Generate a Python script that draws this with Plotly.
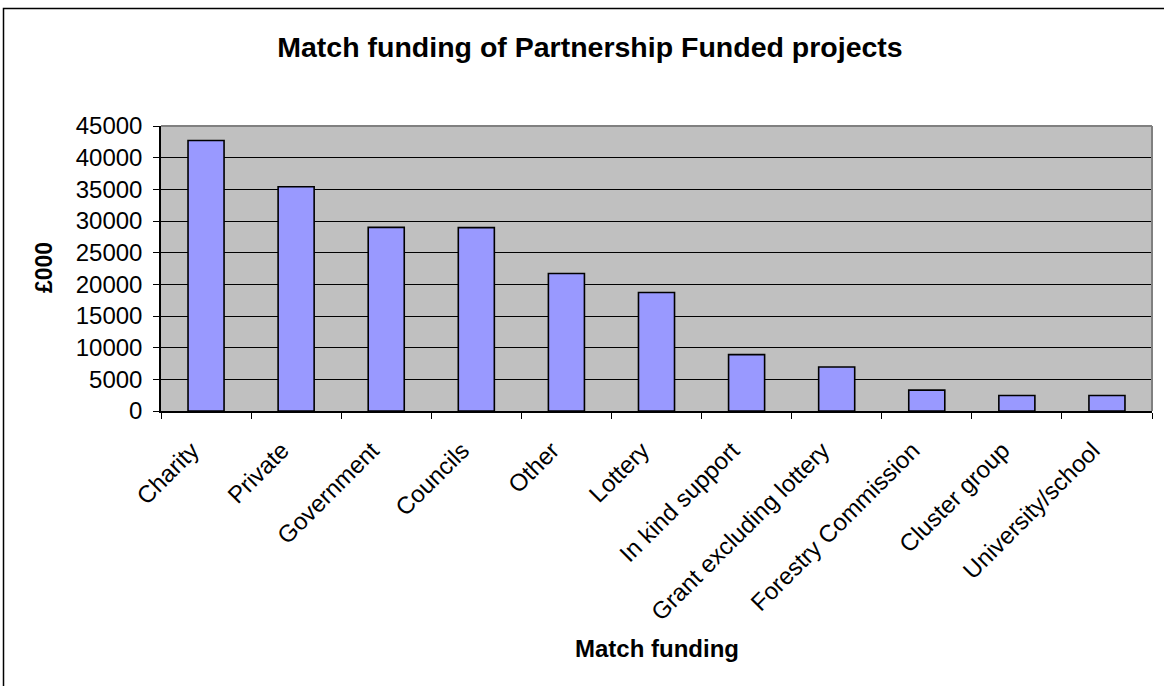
import plotly.graph_objects as go

# Match funding sources and amounts (£000)
categories = [
    "Charity", "Private", "Government", "Councils", "Other", "Lottery",
    "In kind support", "Grant excluding lottery", "Forestry Commission",
    "Cluster group", "University/school",
]
amounts = [42700, 35400, 29000, 28950, 21700, 18700, 8900, 6950, 3300, 2450, 2450]
y_ticks = list(range(0, 45001, 5000))

FONT = "Liberation Sans, Arial, sans-serif"
W, H = 1164, 686
L, R, T, B = 161, 12, 126, 275
pw, ph = W - L - R, H - T - B
PAD = "\u00a0" * 3  # spacing after each rotated category label


def px_x(x):
    return (x - L) / pw


def px_y(y):
    return (H - B - y) / ph


fig = go.Figure(
    go.Bar(
        x=categories,
        y=amounts,
        marker=dict(color="#9999FF", line=dict(color="#000000", width=1.6)),
        width=0.4,
    )
)

fig.update_layout(
    width=W,
    height=H,
    margin=dict(l=L, r=R, t=T, b=B),
    paper_bgcolor="#FFFFFF",
    plot_bgcolor="#C0C0C0",
    showlegend=False,
    font=dict(family=FONT, color="#000000", size=24),
    title=dict(
        text="<b>Match funding of Partnership Funded projects</b>",
        font=dict(family=FONT, size=28.5, color="#000000"),
        x=590 / W, xref="container", xanchor="center",
        y=1 - 47 / H, yref="container", yanchor="middle",
    ),
    xaxis=dict(
        type="category",
        tickvals=categories,
        ticktext=[c + PAD for c in categories],
        tickangle=-45,
        tickson="boundaries",
        ticks="outside",
        ticklen=6,
        tickwidth=1,
        tickcolor="#000000",
        showline=True,
        linecolor="#000000",
        linewidth=1.5,
        showgrid=False,
        tickfont=dict(family=FONT, size=24),
    ),
    yaxis=dict(
        range=[0, 45000],
        tickvals=y_ticks,
        ticktext=[str(v) for v in y_ticks],
        ticks="outside",
        ticklen=6,
        tickwidth=1,
        tickcolor="#000000",
        ticklabelstandoff=6,
        showline=True,
        linecolor="#000000",
        linewidth=1.5,
        showgrid=True,
        gridcolor="#000000",
        gridwidth=1,
        zeroline=False,
        tickfont=dict(family=FONT, size=24),
    ),
    annotations=[
        dict(
            text="<b>Match funding</b>", x=0.5, y=px_y(648),
            xref="paper", yref="paper", xanchor="center", yanchor="middle",
            showarrow=False, font=dict(family=FONT, size=24),
        ),
        dict(
            text="<b>£000</b>", x=px_x(44), y=px_y(268), textangle=-90,
            xref="paper", yref="paper", xanchor="center", yanchor="middle",
            showarrow=False, font=dict(family=FONT, size=23),
        ),
    ],
    shapes=[
        # plot area top and right edges
        dict(type="line", xref="paper", yref="paper", x0=0, x1=1, y0=1, y1=1,
             line=dict(color="#808080", width=2)),
        dict(type="line", xref="paper", yref="paper", x0=1, x1=1, y0=0, y1=1,
             line=dict(color="#808080", width=2)),
        # chart area frame
        dict(type="rect", xref="paper", yref="paper",
             x0=px_x(3.5), x1=px_x(1200), y0=px_y(8.5), y1=px_y(720),
             line=dict(color="#000000", width=1.5), fillcolor="rgba(0,0,0,0)"),
    ],
)

fig.write_html("out.html")
